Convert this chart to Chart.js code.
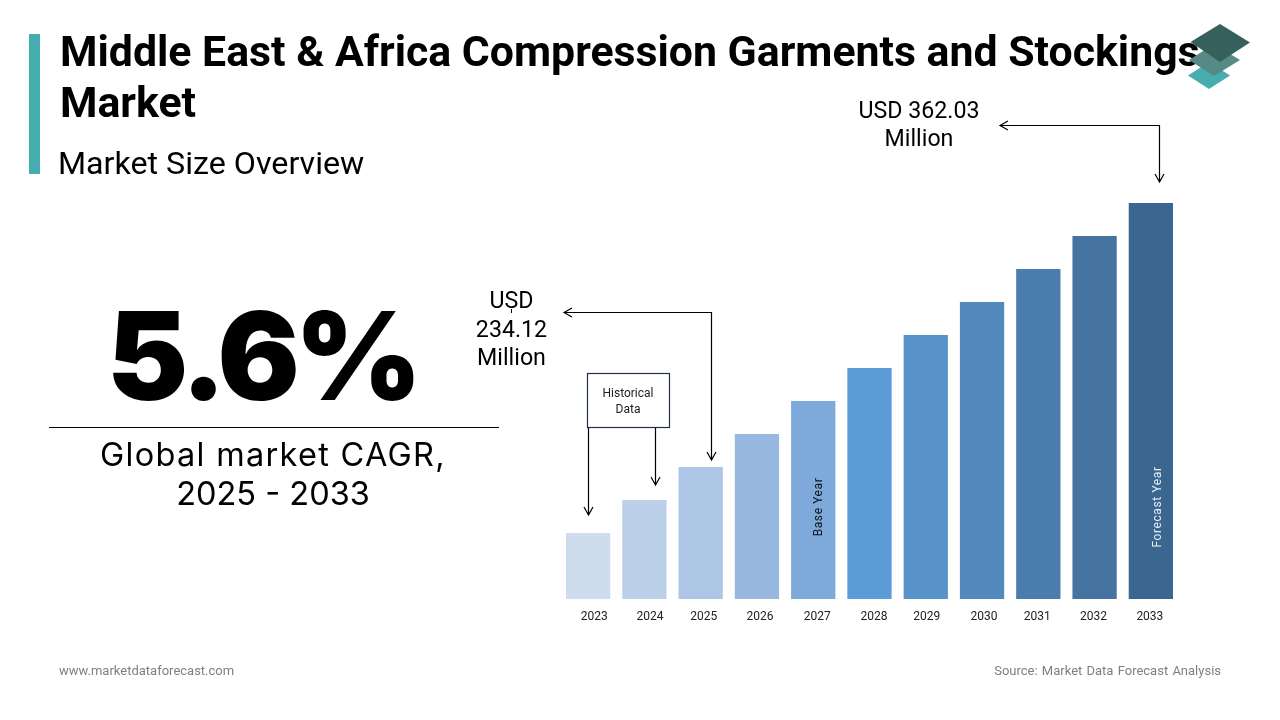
<!DOCTYPE html>
<html>
<head>
<meta charset="utf-8">
<title>Middle East & Africa Compression Garments and Stockings Market</title>
<script src="https://cdn.jsdelivr.net/npm/chart.js@4/dist/chart.umd.min.js"></script>
<style>
  html, body { margin: 0; padding: 0; background: #fff; }
  #page { position: relative; width: 1280px; height: 720px; overflow: hidden; font-family: Roboto, sans-serif; color: #000; }
  #page div, #overlay, canvas { position: absolute; }
  #overlay { left: 0; top: 0; }
  .mid { transform: translate(-50%, -50%); white-space: nowrap; text-align: center; }
  .up { transform: translate(-50%, -50%) rotate(-90deg); white-space: nowrap; font-size: 12px; letter-spacing: .6px; }
  #accent { left: 29px; top: 34px; width: 11px; height: 140px; background: #45adad; }
  #title { left: 60px; top: 26px; font-size: 42.8px; line-height: 51px; font-weight: 700; white-space: nowrap; }
  #subtitle { left: 58px; top: 144px; font-size: 32.2px; line-height: 38px; white-space: nowrap; }
  #cagr { left: 262px; top: 355px; font-family: Inter, sans-serif; font-size: 122px; font-weight: 900; letter-spacing: -5px; }
  #rule { left: 49px; top: 427px; width: 450px; height: 1px; background: #000; }
  #cagrLabel { left: 273px; top: 474px; font-family: Inter, sans-serif; font-size: 32.5px; line-height: 39px; }
  #cagrLabel span { letter-spacing: 1.3px; }
  .usd { font-size: 23.2px; }
  .foot { top: 663px; font-size: 13px; color: #7f7f7f; white-space: nowrap; }
</style>
</head>
<body>
<div id="page">
  <canvas id="myChart" width="1280" height="720"></canvas>
  <div id="accent"></div>
  <div id="title">Middle East &amp; Africa Compression Garments and Stockings<br>Market</div>
  <div id="subtitle">Market Size Overview</div>
  <div id="cagr" class="mid">5.6%</div>
  <div id="rule"></div>
  <div id="cagrLabel" class="mid"><span>Global market CAGR,</span><br>2025 - 2033</div>
  <svg id="overlay" width="1280" height="720" fill="none" stroke="#000" stroke-width="1.2">
    <path d="M1000 125.5H1159.5V182M1008 121L1000 125.5L1008 130M1155 174L1159.5 182L1164 174"/>
    <path d="M564 312.5H711.5V460M572 308L564 312.5L572 317M707 452L711.5 460L716 452"/>
    <rect x="587.5" y="373.5" width="82" height="54" fill="#fff" stroke="#1f3050"/>
    <path d="M588.5 428V515M584 507L588.5 515L593 507"/>
    <path d="M655.5 428V485M651 477L655.5 485L660 477"/>
    <path d="M511.5 309V313" stroke-width="1"/>
    <polygon points="1209,62 1230,75.5 1209,89 1188,75.5" fill="#46adb0" stroke="none"/>
    <polygon points="1214,44 1240,60 1214,76 1189,60" fill="#558a87" stroke="none"/>
    <polygon points="1220,24 1250,42.5 1220,62 1190.5,42" fill="#36605c" stroke="none"/>
  </svg>
  <div class="mid usd" style="left:919px;top:124px;line-height:28px">USD 362.03<br>Million</div>
  <div class="mid usd" style="left:511.5px;top:329px;line-height:28.5px">USD<br>234.12<br>Million</div>
  <div class="mid" style="left:628px;top:401px;font-size:12px;line-height:16px;color:#222">Historical<br>Data</div>
  <div class="up" style="left:818px;top:507px;color:#111">Base Year</div>
  <div class="up" style="left:1157px;top:507px;color:#e8edf3">Forecast Year</div>
  <div class="foot" style="left:59px">www.marketdataforecast.com</div>
  <div class="foot" style="right:59px;word-spacing:1px">Source: Market Data Forecast Analysis</div>
</div>

<script>
// Years on the x axis
const years = ['2023', '2024', '2025', '2026', '2027', '2028', '2029', '2030', '2031', '2032', '2033'];
// Relative bar heights (the bars step up evenly, no value axis is shown)
const barValues = [2, 3, 4, 5, 6, 7, 8, 9, 10, 11, 12];
const barColors = ['#cfdcee', '#bdd0e9', '#adc6e5', '#98b8df', '#7da9db', '#5a9bd8', '#5792c9', '#528abe', '#4a7dae', '#4574a1', '#3a668f'];
// The year labels in the reference are not centred under their bars
const labelShift = [6, 5.5, 3, 3, 4, 4.5, 1, 2, -1, -1, -1];

// Nudge each tick label after the axis has worked out its positions
const shiftLabels = {
    id: 'shiftLabels',
    afterUpdate(chart) {
        chart.scales.x.getLabelItems().forEach(function (item, i) {
            item.options.translation[0] += labelShift[i];
        });
    }
};

function drawChart() {
    new Chart(document.getElementById('myChart').getContext('2d'), {
        type: 'bar',
        data: {
            labels: years,
            datasets: [{
                data: barValues,
                backgroundColor: barColors,
                barPercentage: 0.787,
                categoryPercentage: 1
            }]
        },
        options: {
            responsive: false,
            animation: false,
            layout: { padding: { left: 560, right: 101, top: 203, bottom: 0 } },
            plugins: { legend: { display: false }, tooltip: { enabled: false } },
            scales: {
                x: {
                    grid: { display: false },
                    border: { display: false },
                    ticks: { color: '#222', font: { family: 'Roboto', size: 12 }, padding: 3, maxRotation: 0, autoSkip: false },
                    afterFit: function (scale) { scale.height = 121; }
                },
                y: { display: false, min: 0, max: 12 }
            }
        },
        plugins: [shiftLabels]
    });
}

document.fonts.ready.then(drawChart);
</script>
</body>
</html>
